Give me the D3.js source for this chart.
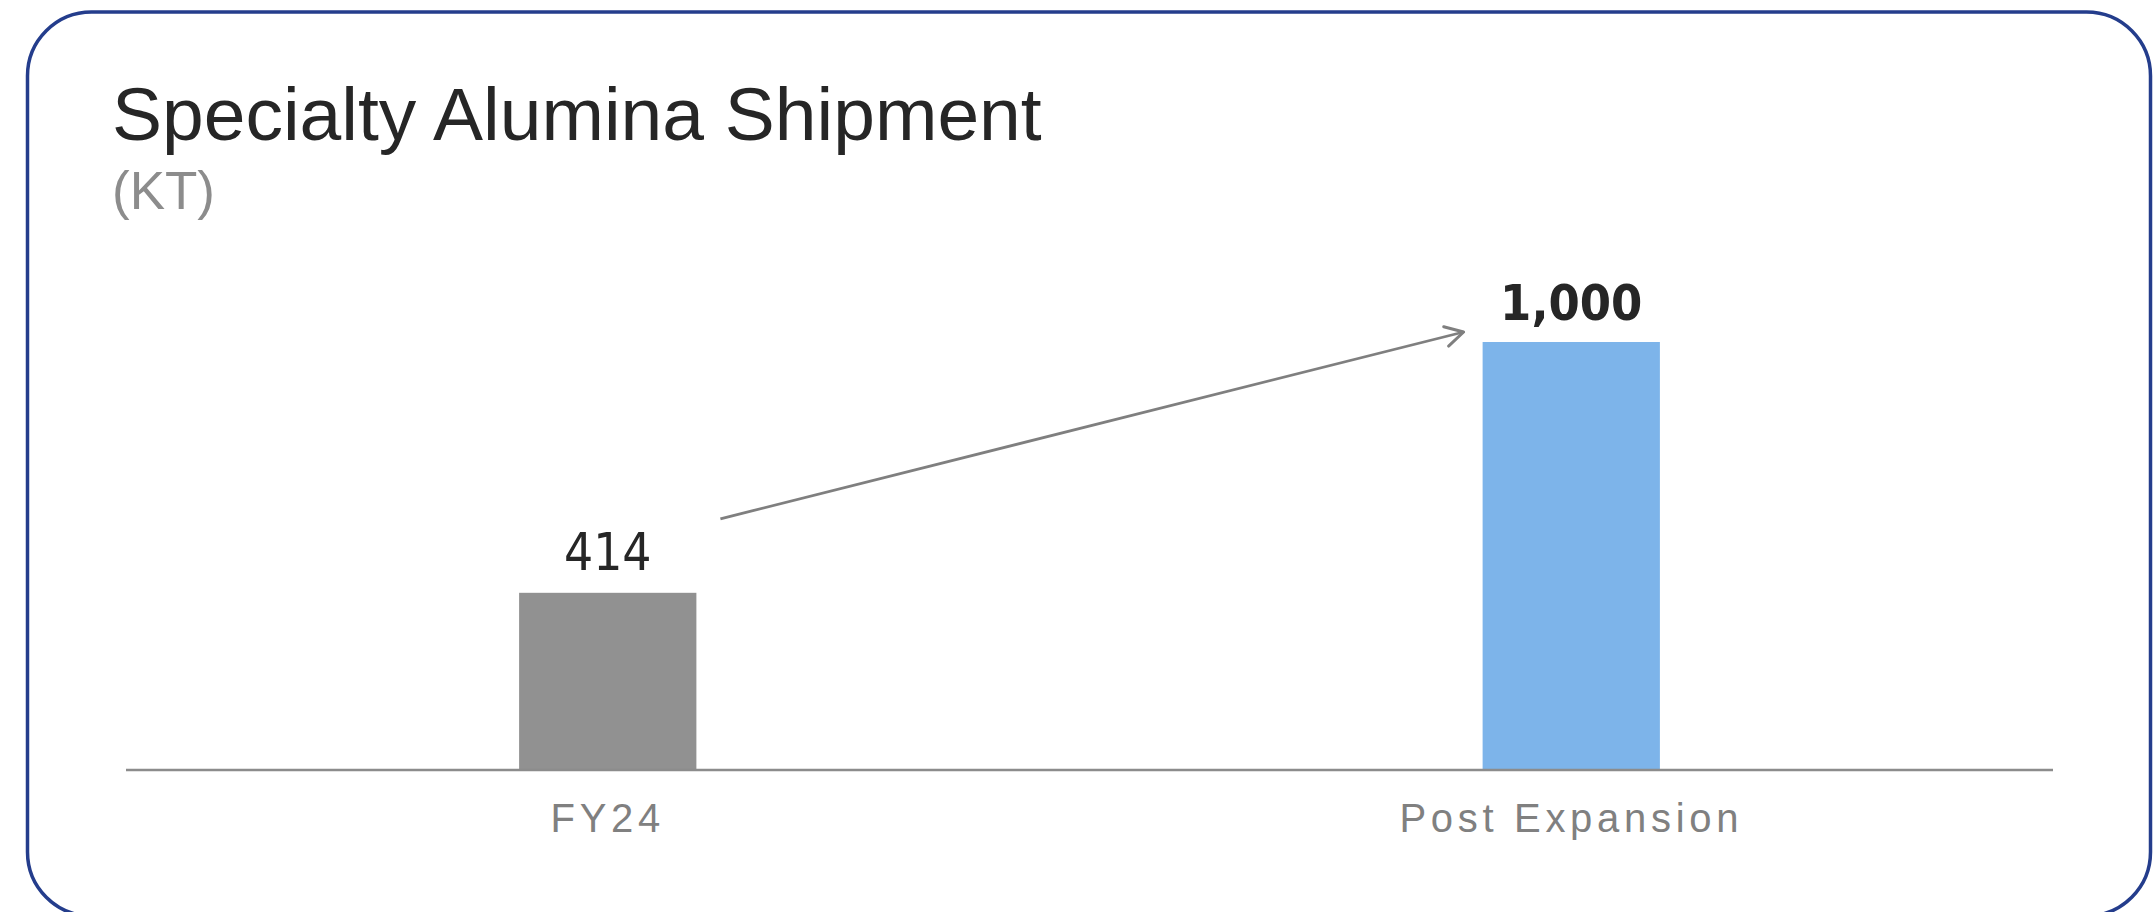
<!DOCTYPE html>
<html>
<head>
<meta charset="utf-8">
<script src="https://cdn.jsdelivr.net/npm/d3@7"></script>
<style>
  html, body { margin: 0; padding: 0; background: #ffffff; }
  svg { display: block; }
</style>
</head>
<body>
<svg id="chart" width="2153" height="912"></svg>
<script>
const title = "Specialty Alumina Shipment";
const subtitle = "(KT)";
const categories = ["FY24", "Post Expansion"];
const values = [414, 1000];
const valueLabels = ["414", "1,000"];
const barColors = ["#919191", "#7db4ea"];

const W = 2153, H = 912;
const svg = d3.select("#chart");

// frame
svg.append("rect")
  .attr("x", 27.5).attr("y", 12).attr("width", 2123).attr("height", 904)
  .attr("rx", 64).attr("ry", 64)
  .attr("fill", "#ffffff").attr("stroke", "#243d8c").attr("stroke-width", 3.5);

svg.append("text").attr("x", 112).attr("y", 140)
  .attr("font-family", "'Liberation Sans', Arial, sans-serif").attr("font-size", 75)
  .attr("fill", "#262626").text(title);
svg.append("text").attr("x", 112).attr("y", 209)
  .attr("font-family", "'Liberation Sans', Arial, sans-serif").attr("font-size", 53)
  .attr("fill", "#8c8c8c").text(subtitle);

const left = 126, right = 2053, baseY = 770;
const x = d3.scaleBand().domain(categories).range([left, right]).padding(0);
const y = d3.scaleLinear().domain([0, 1000]).range([baseY, 342]);
const barW = x.bandwidth() * 0.184;
const cx = c => x(c) + x.bandwidth() / 2;

svg.selectAll("rect.bar").data(categories).enter().append("rect")
  .attr("class", "bar")
  .attr("x", d => cx(d) - barW / 2)
  .attr("width", barW)
  .attr("y", (d, i) => y(values[i]))
  .attr("height", (d, i) => baseY - y(values[i]))
  .attr("fill", (d, i) => barColors[i]);

// axis
const axis = svg.append("g").attr("transform", `translate(0,${baseY})`)
  .call(d3.axisBottom(x).tickSize(0).tickPadding(62));
axis.select(".domain").attr("stroke", "#8c8c8c").attr("stroke-width", 2.5)
  .attr("d", `M${left},0H${right}`);
axis.selectAll(".tick text")
  .attr("font-family", "'Liberation Sans', Arial, sans-serif")
  .attr("font-size", 40).attr("fill", "#808080")
  .attr("letter-spacing", "4.7px").attr("dy", 0);

// value labels
svg.selectAll("text.val").data(categories).enter().append("text")
  .attr("class", "val")
  .attr("x", d => cx(d))
  .attr("y", (d, i) => y(values[i]) - (i === 0 ? 23 : 22))
  .attr("text-anchor", "middle")
  .attr("font-family", "'DejaVu Sans Condensed', 'DejaVu Sans', sans-serif")
  .attr("font-stretch", "condensed")
  .attr("font-weight", (d, i) => i === 1 ? "bold" : "normal")
  .attr("font-size", (d, i) => i === 1 ? 50 : 51)
  .attr("fill", "#262626")
  .text((d, i) => valueLabels[i]);

// arrow
const defs = svg.append("defs");
defs.append("marker").attr("id", "arr").attr("viewBox", "0 0 26 26")
  .attr("refX", 23).attr("refY", 13).attr("markerWidth", 26).attr("markerHeight", 26)
  .attr("markerUnits", "userSpaceOnUse").attr("orient", "auto")
  .append("path").attr("d", "M5,3 L23,13 L5,23").attr("fill", "none")
  .attr("stroke", "#7f7f7f").attr("stroke-width", 3).attr("stroke-linecap", "round")
  .attr("stroke-linejoin", "round");
const x0 = cx(categories[0]) + barW / 2 + 24, y0 = y(values[0]) - 74;
const x1 = cx(categories[1]) - barW / 2 - 19, y1 = y(values[1]) - 10;
svg.append("line").attr("x1", x0).attr("y1", y0).attr("x2", x1).attr("y2", y1)
  .attr("stroke", "#7f7f7f").attr("stroke-width", 2.8).attr("marker-end", "url(#arr)");
</script>
</body>
</html>
